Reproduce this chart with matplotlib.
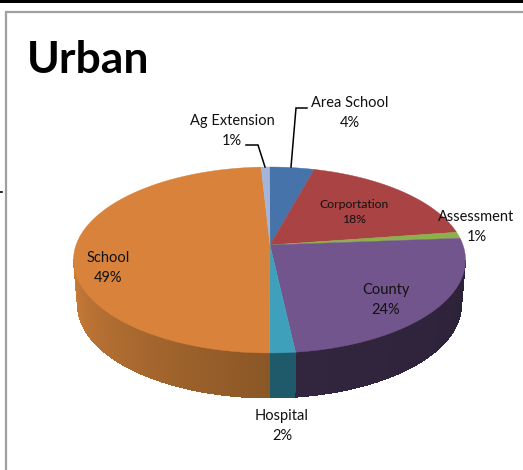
import numpy as np
import matplotlib
matplotlib.use("Agg")
import matplotlib.pyplot as plt
from matplotlib.collections import PolyCollection
from matplotlib.colors import to_rgb

plt.rcParams['font.family'] = ['Lato', 'DejaVu Sans']

# Clockwise from the top of the pie
categories = ["Area School", "Corportation", "Assessment", "County", "Hospital", "School", "Ag Extension"]
shares = [4.3, 18.4, 1.1, 24.4, 1.8, 49.2, 0.8]
top_colors = ["#4673AA", "#AA4344", "#8DAF4C", "#73558E", "#3FA0BC", "#D8823B", "#A3B6D9"]
wall_start = ["#2F4D73", "#722D2D", "#5E7533", "#32263F", "#1F5A6A", "#C97B38", "#6D7A91"]
wall_end = ["#2F4D73", "#722D2D", "#5E7533", "#2C2238", "#1F5A6A", "#8A5726", "#6D7A91"]

CX, CY, RX, RY = 269.5, 260.0, 196.0, 93.0
BCX, BCY, BRX, BRY = 269.5, 305.0, 192.0, 93.0
TILT = 0.161  # apparent shift of the pie centre under perspective


def project(phi):
    """Circle angle (deg, clockwise from top) to unit-ellipse coordinates."""
    a = np.radians(phi)
    x, y = np.sin(a), np.cos(a)
    den = 1 + TILT * y
    return x * np.sqrt(1 - TILT ** 2) / den, (y + TILT) / den


def ellipse_angle(phi):
    x, y = project(phi)
    return np.degrees(np.arctan2(x, y)) % 360


fig = plt.figure(figsize=(5.23, 4.70), dpi=100)
ax = fig.add_axes([0, 0, 1, 1])
ax.set_xlim(0, 523)
ax.set_ylim(470, 0)
ax.axis("off")

# Frame fragments of the cropped screenshot
ax.fill([0, 523, 523, 0], [0, 0, 3, 3], color="black", lw=0)
ax.plot([5.5, 5.5, 523], [470, 11.5, 11.5], color="#A0A0A0", lw=1.6, solid_joinstyle="miter")
ax.plot([0, 1.5], [191.5, 191.5], color="black", lw=1.2)

edges = np.cumsum([0] + shares) * 3.6

# Side wall: only the front half of the ellipse is visible
polys, cols = [], []
for i in range(len(shares)):
    t0, t1 = ellipse_angle(edges[i]), ellipse_angle(edges[i + 1])
    if t1 < t0:
        t1 += 360
    a, b = max(t0, 90.0), min(t1, 270.0)
    if b <= a:
        continue
    ts = np.linspace(a, b, max(2, int(b - a) * 2 + 1))
    c0, c1 = np.array(to_rgb(wall_start[i])), np.array(to_rgb(wall_end[i]))
    for j in range(len(ts) - 1):
        u0, u1 = np.radians(ts[j]), np.radians(ts[j + 1] + 0.15)
        polys.append([
            (CX + RX * np.sin(u0), CY - RY * np.cos(u0)),
            (CX + RX * np.sin(u1), CY - RY * np.cos(u1)),
            (BCX + BRX * np.sin(u1), BCY - BRY * np.cos(u1)),
            (BCX + BRX * np.sin(u0), BCY - BRY * np.cos(u0)),
        ])
        f = (ts[len(ts) - 1 - j] - a) / max(b - a, 1e-6)
        cols.append(c0 + (c1 - c0) * f)
ax.add_collection(PolyCollection(polys, facecolors=cols, edgecolors="none", antialiased=False))

# Top face
apex = (CX + 0.5, CY - TILT * RY)
for i in range(len(shares)):
    phi = np.linspace(edges[i], edges[i + 1], 90)
    ex, ey = project(phi)
    xs = np.r_[apex[0], CX + RX * ex]
    ys = np.r_[apex[1], CY - RY * ey]
    ax.fill(xs, ys, color=top_colors[i], lw=0.3, zorder=3)

# Leader lines
ax.plot([246, 258, 265], [145, 145, 167], color="black", lw=1.1, zorder=4, solid_joinstyle="miter")
ax.plot([307, 296, 291], [108, 108, 167], color="black", lw=1.1, zorder=4, solid_joinstyle="miter")

# Labels
label_pos = [(350, 113), (354, 212), (476.5, 227), (386, 300), (282, 426), (108, 268), (232, 131)]
label_size = [10.5, 8.8, 10.5, 10.5, 10.5, 10.5, 10.5]
label_gap = [1.62, 1.52, 1.55, 1.62, 1.62, 1.62, 1.62]
for name, share, (x, y), s, g in zip(categories, shares, label_pos, label_size, label_gap):
    ax.text(x, y, f"{name}\n{round(share)}%", ha="center", va="center", fontsize=s,
            color="#111111", linespacing=g, zorder=5)

ax.text(26.5, 60, "Urban", fontsize=32, fontweight="bold", color="black", ha="left", va="center")

fig.savefig("out.png", dpi=100)
